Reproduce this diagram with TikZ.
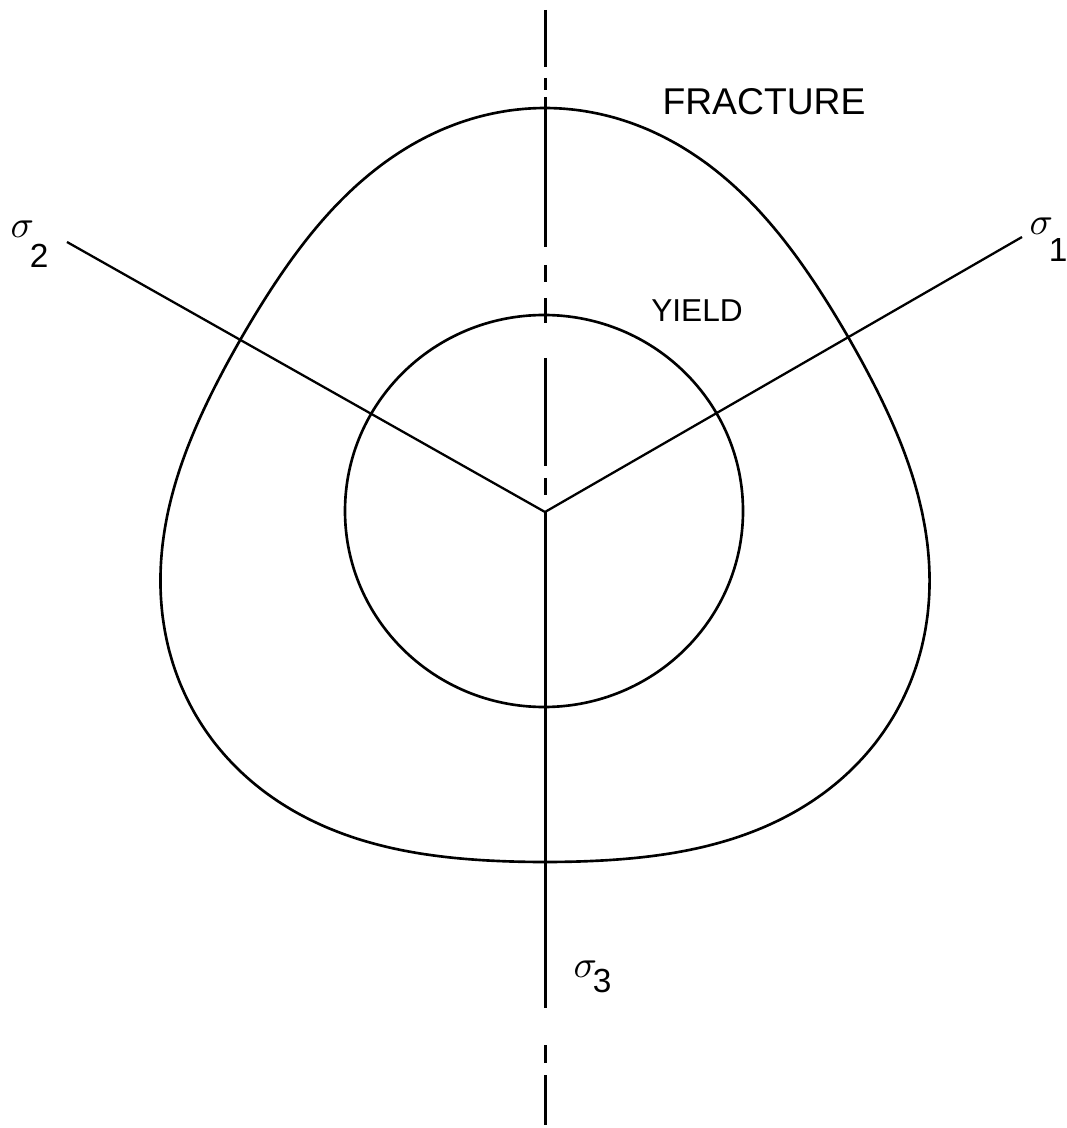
\documentclass[tikz,border=0pt]{standalone}
\usepackage{fontspec}
\setmainfont{Liberation Sans}
\usetikzlibrary{positioning}

\tikzset{
  curve/.style={line width=0.75pt},
  axis/.style={line width=0.85pt},
  ray/.style={line width=0.65pt},
  lbl/.style={inner sep=0pt},
}
\newcommand{\sig}[2]{\fontsize{11}{13}\selectfont$\sigma$\kern-1.2pt\raisebox{-#2pt}{\fontsize{9.5}{12}\selectfont #1}}

\begin{document}
\begin{tikzpicture}[x=0.01cm, y=-0.01cm,
    declare function={rf(\t)=377+27*cos(3*(\t-90));}]
  \useasboundingbox (0,0) rectangle (1066,1128);
  \coordinate (O) at (545,512);
  \coordinate (end1) at (1022,237);
  \coordinate (end2) at (67,242);

  % chain line for sigma3
  \foreach \a/\b in {10/67, 78/90, 97/247, 265/282, 298/323, 358/466, 478/495, 512/1008, 1045/1063, 1075/1125}
    \draw[axis] (545,\a) -- (545,\b);

  % yield
  \draw[curve] (544,511) ellipse [x radius=199, y radius=196];

  % fracture
  \draw[curve] plot[domain=0:360, samples=145, smooth cycle]
    ({545+rf(\x)*cos(\x)}, {512-rf(\x)*sin(\x)});

  % sigma1, sigma2 axes
  \draw[ray] (O) -- (end1);
  \draw[ray] (O) -- (end2);

  \node[lbl] (frac) at (764,102) {\fontsize{10.6}{12}\selectfont FRACTURE};
  \node[lbl] (yld) at (697,311) {\fontsize{9}{11}\selectfont YIELD};
  \node[lbl, anchor=base west] (s1) at (1029,235) {\sig{1}{7.6}};
  \node[lbl, anchor=base west] (s2) at (10,238) {\sig{2}{8.4}};
  \node[lbl, anchor=base west] (s3) at (573,977) {\sig{3}{4.5}};
\end{tikzpicture}
\end{document}
